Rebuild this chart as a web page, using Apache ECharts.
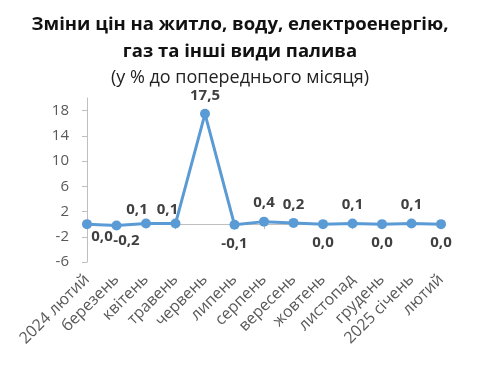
<!DOCTYPE html>
<html><head><meta charset="utf-8">
<script src="https://cdn.jsdelivr.net/npm/echarts@6/dist/echarts.min.js"></script>
<style>html,body{margin:0;padding:0;background:#fff}#c{width:480px;height:368px}</style>
</head><body><div id="c"></div>
<script>
const categories = ['2024 лютий','березень','квітень','травень','червень','липень','серпень','вересень','жовтень','листопад','грудень','2025 січень','лютий'];
const values = [0.0,-0.2,0.1,0.1,17.5,-0.1,0.4,0.2,0.0,0.1,0.0,0.1,0.0];
const yTicks = {min:-6, max:20, interval:4};
const titleLines = ['Зміни цін на житло, воду, електроенергію,', 'газ та інші види палива'];
const subtitleText = '(у % до попереднього місяця)';

// label nudges (style only) for the crowded first points
const labelNudge = {0:[15,-6], 1:[10,-3], 2:[-9,5], 3:[-8,5]};

const FONT = '"Open Sans", sans-serif';
const chart = echarts.init(document.getElementById('c'));
const fmt = v => v.toFixed(1).replace('.', ',');
chart.setOption({
  animation:false,
  title:[
    {text:titleLines[0], left:'center', top:10,
     textStyle:{fontFamily:FONT, fontSize:18.5, fontWeight:'bold', color:'#111'}},
    {text:titleLines[1], left:'center', top:37,
     textStyle:{fontFamily:FONT, fontSize:18.5, fontWeight:'bold', color:'#111'}},
    {text:subtitleText, left:'center', top:64,
     textStyle:{fontFamily:FONT, fontSize:18, fontWeight:'normal', color:'#222'}}
  ],
  grid:{left:87, right:39, top:98, bottom:106, containLabel:false},
  xAxis:[
    {type:'category', data:categories, boundaryGap:false, position:'bottom',
     axisLine:{show:false, onZero:false}, axisTick:{show:false},
     axisLabel:{rotate:45, interval:0, margin:15, fontFamily:FONT, fontSize:16, color:'#595959'}},
    {type:'category', data:categories, boundaryGap:false, position:'top',
     axisLine:{show:true, onZero:true, lineStyle:{color:'#BFBFBF', width:1}},
     axisTick:{show:true, inside:true, length:5, lineStyle:{color:'#BFBFBF'}},
     axisLabel:{show:false}}
  ],
  yAxis:{type:'value', min:yTicks.min, max:yTicks.max, interval:yTicks.interval,
    axisLine:{show:true, lineStyle:{color:'#BFBFBF'}},
    axisTick:{show:true, length:5, lineStyle:{color:'#BFBFBF'}},
    splitLine:{show:false},
    axisLabel:{showMaxLabel:false, margin:18, fontFamily:FONT, fontSize:15, color:'#595959'}},
  series:[{
    type:'line',
    data:values.map((v, i) => ({value:v, label:{position: v > 0 ? 'top' : 'bottom', offset: labelNudge[i] || [0, 0]}})),
    xAxisIndex:0,
    symbol:'circle', symbolSize:10,
    lineStyle:{color:'#5B9BD5', width:3},
    itemStyle:{color:'#5B9BD5'},
    label:{show:true, distance:6, formatter:p => fmt(p.value), fontFamily:FONT, fontSize:15, fontWeight:'bold', color:'#404040'}
  }]
});
</script></body></html>
